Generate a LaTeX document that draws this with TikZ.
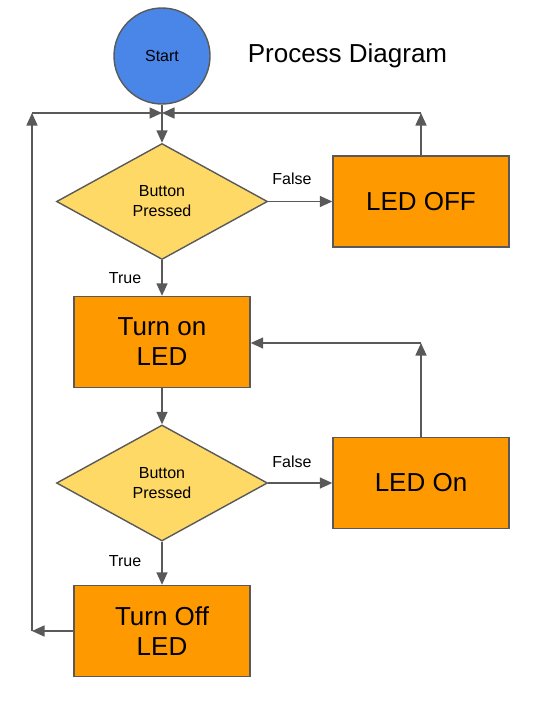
\documentclass[tikz,border=0pt]{standalone}
\usepackage{fontspec}
\setmainfont{Liberation Sans}
\usetikzlibrary{arrows.meta, shapes.geometric, positioning}
\definecolor{startblue}{HTML}{4A86E8}
\definecolor{decyellow}{HTML}{FFD966}
\definecolor{boxorange}{HTML}{FF9900}
\definecolor{edgegray}{HTML}{595959}
\tikzset{
  smalltext/.style = {font=\fontsize{16}{20}\selectfont},
  bigtext/.style = {font=\fontsize{26}{30}\selectfont},
  startnode/.style = {circle, draw=edgegray, fill=startblue, line width=1.4pt,
    minimum size=96pt, inner sep=0pt, smalltext},
  decision/.style = {diamond, draw=edgegray, fill=decyellow, line width=1.4pt,
    minimum width=211pt, minimum height=116pt, aspect=1.8, inner sep=0pt,
    align=center, smalltext},
  ledbox/.style = {rectangle, draw=edgegray, fill=boxorange, line width=1.4pt,
    minimum width=176pt, minimum height=91pt, align=center, bigtext},
  flow/.style = {-{Triangle[length=12.5pt, width=11pt]}, draw=edgegray,
    line width=1.5pt},
  lbl/.style = {smalltext, inner sep=0pt}
}
\begin{document}
\begin{tikzpicture}[x=1pt, y=-1pt]
\useasboundingbox (0,0) rectangle (548,712);
\node [startnode] (start) at (162,56) {\raisebox{-1.5pt}{Start}};
\node [bigtext, anchor=base] (title) at (347.5,62) {Process Diagram};
\node [decision] (press1) at (162,201.5) {Button\\Pressed};
\node [ledbox] (ledoff) at (421,201.5) {LED OFF};
\node [ledbox] (turnon) at (162,342) {Turn on\\LED};
\node [decision] (press2) at (162,483) {Button\\Pressed};
\node [ledbox] (ledon) at (421,483) {LED On};
\node [ledbox] (turnoff) at (162,631) {Turn Off\\LED};
% corners of the return lines
\coordinate (join) at (162,113);
\coordinate (offup) at (421,113);
\coordinate (leftup) at (32,113);
\coordinate (leftdown) at (32,631);
\coordinate (onup) at (421,343);
% main flow
\draw [flow] (start) -- (press1);
\draw [flow] (press1) -- node [lbl, pos=0.37, above=16pt] (false1) {False} (ledoff);
\draw [flow] (press1) -- node [lbl, midway, left=20pt] (true1) {True} (turnon);
\draw [flow] (turnon) -- (press2);
\draw [flow] (press2) -- node [lbl, pos=0.37, above=15pt] (false2) {False} (ledon);
\draw [flow] (press2) -- node [lbl, pos=0.45, left=20pt] (true2) {True} (turnoff);
% return lines
\draw [flow] (ledoff) -- (offup);
\draw [flow] (offup) -- (join);
\draw [flow] (ledon) -- (onup);
\draw [flow] (onup) -- (onup -| turnon.east);
\draw [flow] (turnoff) -- (leftdown);
\draw [flow] (leftdown) -- (leftup);
\draw [flow] (leftup) -- (join);
\end{tikzpicture}
\end{document}
